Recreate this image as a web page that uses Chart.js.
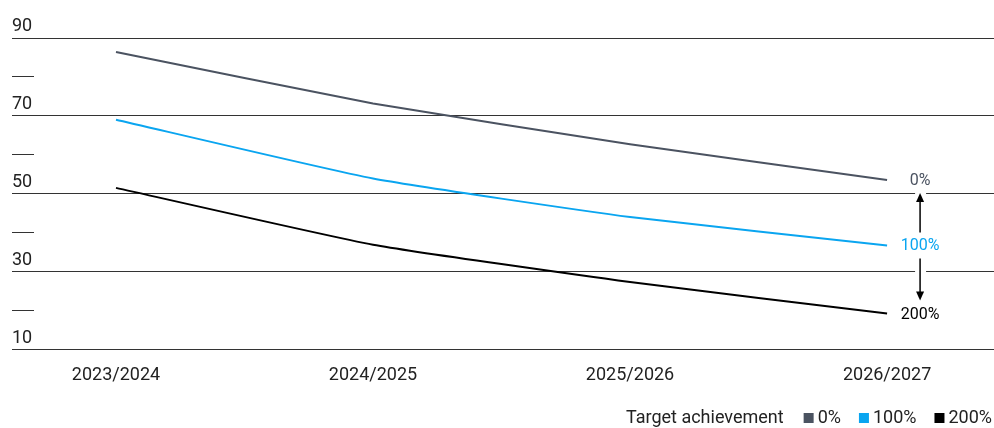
<!DOCTYPE html>
<html>
<head>
<meta charset="utf-8">
<script src="https://cdn.jsdelivr.net/npm/chart.js@4.4.1/dist/chart.umd.min.js"></script>
<style>
  html, body { margin: 0; padding: 0; background: #fff; }
  #wrap { width: 994px; height: 428px; position: relative; }
</style>
</head>
<body>
<div id="wrap"><canvas id="targetChart"></canvas></div>
<script>
// Datos del gráfico
const categories = ['2023/2024', '2024/2025', '2025/2026', '2026/2027'];
const seriesNames = ['0%', '100%', '200%'];
const values0 = [86.4, 73.2, 62.7, 53.5];
const values100 = [69.0, 53.9, 44.0, 36.7];
const values200 = [51.5, 36.9, 27.3, 19.2];
const yTicks = [10, 20, 30, 40, 50, 60, 70, 80, 90];
const yLabelTicks = [10, 30, 50, 70, 90];
const legendTitle = 'Target achievement';

const colors = ['#4b5361', '#0aa5f0', '#000000'];
const FONT = 'Roboto, "DejaVu Sans", sans-serif';

function toPoints(values) {
    return values.map((v, i) => ({ x: i, y: v }));
}

// Etiquetas al final de cada línea y flechas entre ellas
const endLabels = {
    id: 'endLabels',
    afterDatasetsDraw(chart) {
        const ctx = chart.ctx;
        const pts = chart.data.datasets.map((d, i) => {
            const meta = chart.getDatasetMeta(i);
            return meta.data[meta.data.length - 1];
        });
        const lx = pts[0].x + 33;

        ctx.save();
        // hueco blanco en las líneas de la rejilla
        ctx.fillStyle = '#ffffff';
        ctx.fillRect(lx - 5, pts[0].y + 9, 11, pts[2].y - pts[0].y - 18);

        ctx.font = '16px ' + FONT;
        ctx.textAlign = 'center';
        ctx.textBaseline = 'middle';
        pts.forEach((p, i) => {
            ctx.fillStyle = colors[i];
            ctx.fillText(seriesNames[i], lx, p.y + 1);
        });

        function arrow(x, yFrom, yTo) {
            const dir = yTo > yFrom ? 1 : -1;
            ctx.strokeStyle = '#000';
            ctx.fillStyle = '#000';
            ctx.lineWidth = 1.5;
            ctx.beginPath();
            ctx.moveTo(x, yFrom);
            ctx.lineTo(x, yTo - dir * 8);
            ctx.stroke();
            ctx.beginPath();
            ctx.moveTo(x, yTo);
            ctx.lineTo(x - 4, yTo - dir * 9);
            ctx.lineTo(x + 4, yTo - dir * 9);
            ctx.closePath();
            ctx.fill();
        }
        arrow(lx, pts[1].y - 13, pts[0].y + 13);
        arrow(lx, pts[1].y + 13, pts[2].y - 13);
        ctx.restore();
    }
};

// Leyenda dibujada a mano (abajo a la derecha)
const bottomLegend = {
    id: 'bottomLegend',
    afterDraw(chart) {
        const ctx = chart.ctx;
        const y = 418;
        ctx.save();
        ctx.font = '18px ' + FONT;
        ctx.textBaseline = 'middle';
        ctx.textAlign = 'left';
        let end = 992;
        for (let i = seriesNames.length - 1; i >= 0; i--) {
            const w = ctx.measureText(seriesNames[i]).width;
            const tx = end - w;
            ctx.fillStyle = '#222';
            ctx.fillText(seriesNames[i], tx, y);
            const bx = tx - 4 - 10;
            ctx.fillStyle = colors[i];
            ctx.fillRect(bx, y - 5, 10, 10);
            end = bx - 18;
        }
        const tw = ctx.measureText(legendTitle).width;
        ctx.fillStyle = '#222';
        ctx.fillText(legendTitle, end - 2 - tw, y);
        ctx.restore();
    }
};

const ctx = document.getElementById('targetChart').getContext('2d');
const targetChart = new Chart(ctx, {
    type: 'line',
    data: {
        datasets: [values0, values100, values200].map((vals, i) => ({
            label: seriesNames[i],
            data: toPoints(vals),
            borderColor: colors[i],
            backgroundColor: colors[i],
            borderWidth: 2,
            pointRadius: 0,
            tension: 0.15,
            fill: false
        }))
    },
    options: {
        responsive: true,
        maintainAspectRatio: false,
        animation: false,
        layout: { padding: { top: 38, left: 12, right: 0, bottom: 27 } },
        plugins: {
            legend: { display: false },
            tooltip: { enabled: false }
        },
        scales: {
            x: {
                type: 'linear',
                min: -0.319,
                max: 3.416,
                afterBuildTicks: axis => { axis.ticks = categories.map((c, i) => ({ value: i })); },
                grid: { display: false, drawTicks: false },
                border: { display: false },
                ticks: {
                    callback: v => categories[v],
                    autoSkip: false,
                    maxRotation: 0,
                    padding: 15,
                    color: '#222',
                    font: { family: FONT, size: 18 }
                }
            },
            y: {
                min: 10,
                max: 90,
                afterBuildTicks: axis => { axis.ticks = yTicks.map(v => ({ value: v })); },
                afterFit: axis => { axis.width = 22; },
                border: { display: false },
                grid: {
                    color: c => yLabelTicks.includes(c.tick.value) ? '#333' : 'rgba(0,0,0,0)',
                    tickColor: '#333',
                    drawTicks: true,
                    tickLength: 22,
                    lineWidth: 1
                },
                ticks: {
                    autoSkip: false,
                    crossAlign: 'far',
                    padding: 0,
                    color: '#222',
                    font: { family: FONT, size: 18, lineHeight: 1.25 },
                    callback: v => yLabelTicks.includes(v) ? [String(v), ''] : ''
                }
            }
        }
    },
    plugins: [endLabels, bottomLegend]
});
</script>
</body>
</html>
